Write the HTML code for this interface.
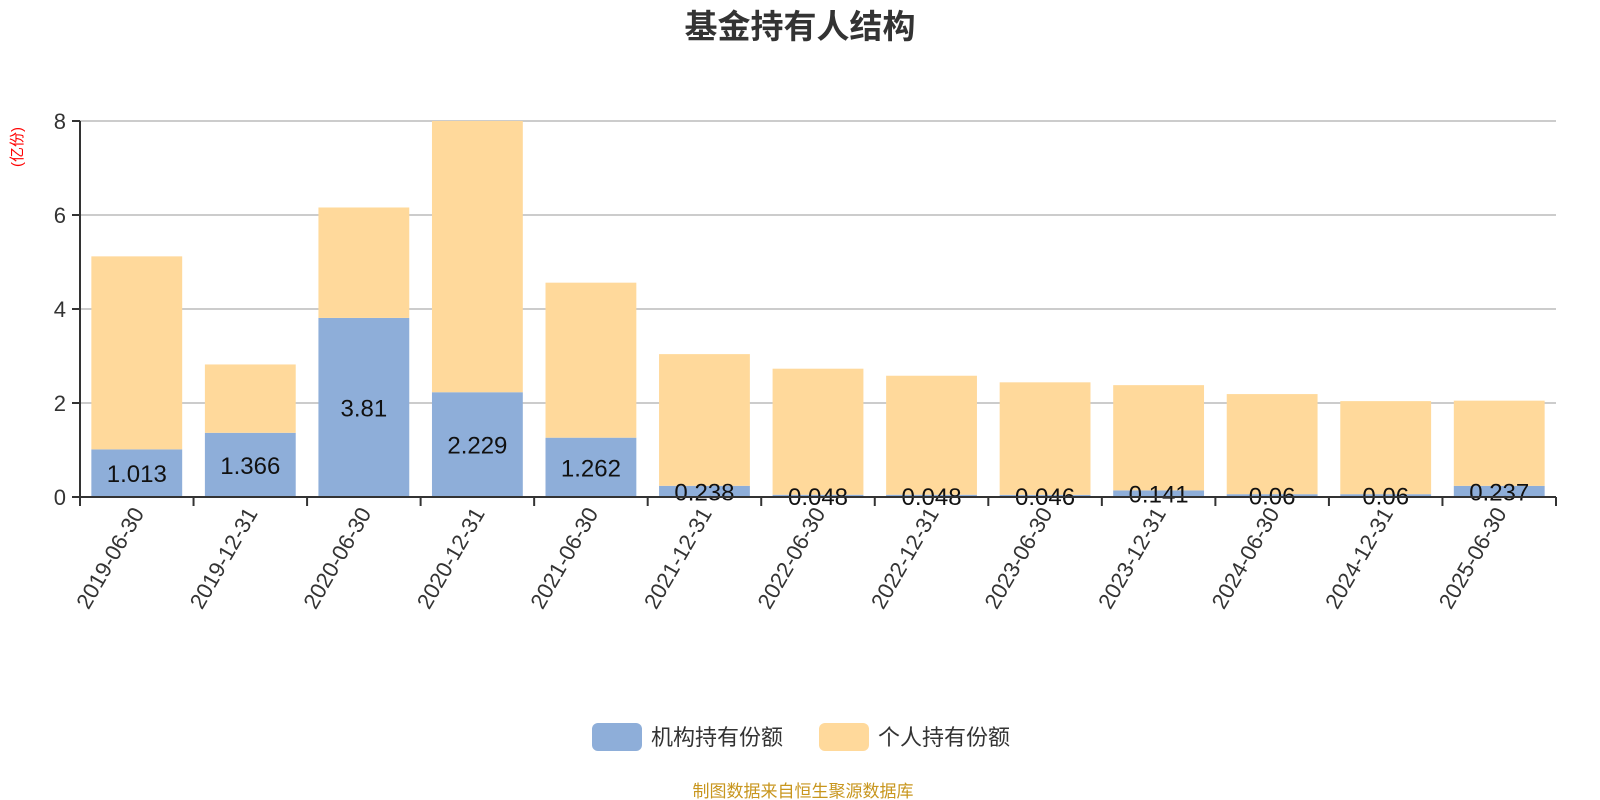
<!DOCTYPE html>
<html><head><meta charset="utf-8"><style>
html,body{margin:0;padding:0;background:#fff;}
svg{display:block;font-family:"Liberation Sans","Noto Sans CJK SC",sans-serif;}
</style></head><body>
<svg id="chart" width="1600" height="800" viewBox="0 0 1600 800">
<text x="800" y="38" text-anchor="middle" font-size="33" font-weight="bold" fill="#333">基金持有人结构</text>
<text transform="translate(22,147) rotate(-90)" text-anchor="middle" font-size="15" fill="#ff0000">(亿份)</text>
<g id="grid"></g><g id="bars"></g><g id="axes"></g>
<g>
<g><rect x="592" y="723" width="50" height="28" rx="6" fill="#8eaed9"/><text x="651" y="745" font-size="22" fill="#333">机构持有份额</text></g>
<g><rect x="819" y="723" width="50" height="28" rx="6" fill="#ffd99b"/><text x="878" y="745" font-size="22" fill="#333">个人持有份额</text></g>
</g>
<text x="803" y="797" text-anchor="middle" font-size="17" fill="#c8961e">制图数据来自恒生聚源数据库</text>
</svg>
<script>
const categories=["2019-06-30","2019-12-31","2020-06-30","2020-12-31","2021-06-30","2021-12-31","2022-06-30","2022-12-31","2023-06-30","2023-12-31","2024-06-30","2024-12-31","2025-06-30"];
const institution=[1.013,1.366,3.81,2.229,1.262,0.238,0.048,0.048,0.046,0.141,0.06,0.06,0.237];
const individual=[4.107,1.454,2.35,5.771,3.298,2.802,2.682,2.532,2.394,2.239,2.13,1.98,1.813];
const yTicks=[0,2,4,6,8];
const NS="http://www.w3.org/2000/svg";
const L=80,R=1556,T=121,B=497,YMAX=8;
const y=v=>B-(v/YMAX)*(B-T);
const band=(R-L)/categories.length;
const bx=i=>L+band*i+band*0.1, bw=band*0.8;
function mk(tag,attrs,parent){const e=document.createElementNS(NS,tag);for(const k in attrs)e.setAttribute(k,attrs[k]);parent.appendChild(e);return e;}
const grid=document.getElementById('grid'),bars=document.getElementById('bars'),axes=document.getElementById('axes');
yTicks.forEach(t=>{
 if(t>0){const g=mk('line',{x1:L,x2:R,y1:y(t),y2:y(t),stroke:'#ccc','stroke-width':2},grid);
 
 }
 const tk=mk('line',{x1:L-8,x2:L,y1:y(t),y2:y(t),stroke:'#333','stroke-width':2},axes);
 
 
 const lb=mk('text',{x:L-14,y:y(t)+8,'text-anchor':'end','font-size':22,fill:'#333'},axes);
 
 
 lb.textContent=t;
});
categories.forEach((c,i)=>{
 const a=institution[i],b=individual[i];
 const r1=mk('rect',{x:bx(i),width:bw,y:y(a),height:B-y(a),fill:'#8eaed9'},bars);
 
 
 const r2=mk('rect',{x:bx(i),width:bw,y:y(a+b),height:y(a)-y(a+b),fill:'#ffd99b'},bars);
 
 
 const lb=mk('text',{x:bx(i)+bw/2,y:(y(a)+B)/2+9,'text-anchor':'middle','font-size':24,fill:'#111'},bars);
 
 
 lb.textContent=a;
 const tk=mk('line',{x1:L+band*i,x2:L+band*i,y1:B,y2:B+9,stroke:'#333','stroke-width':2},axes);
 
 
 const cx=L+band*(i+0.5);
 const xl=mk('text',{transform:`translate(${cx+8},${B+16}) rotate(-60)`,'text-anchor':'end','font-size':22,fill:'#333'},axes);
 
 
 xl.textContent=c;
});
const et=mk('line',{x1:R,x2:R,y1:B,y2:B+9,stroke:'#333','stroke-width':2},axes);


const xa=mk('line',{x1:L,x2:R,y1:B,y2:B,stroke:'#333','stroke-width':2},axes);


const ya=mk('line',{x1:L,x2:L,y1:T,y2:B,stroke:'#333','stroke-width':2},axes);


</script>
</body></html>
